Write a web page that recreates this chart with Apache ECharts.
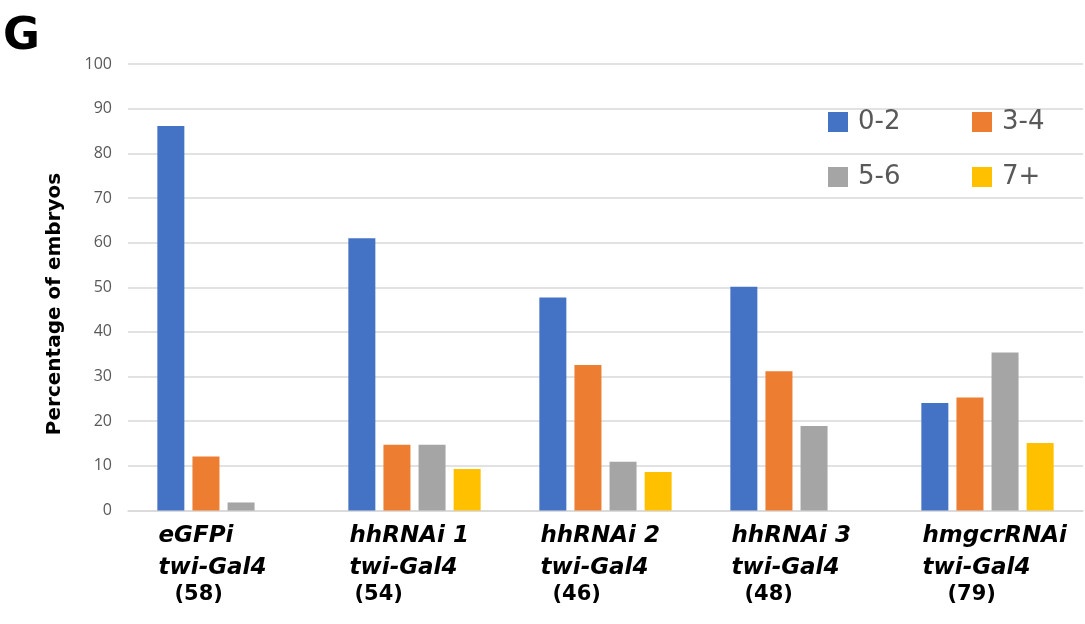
<!DOCTYPE html>
<html>
<head>
<meta charset="utf-8">
<title>Percentage of embryos</title>
<script src="https://cdn.jsdelivr.net/npm/echarts@6/dist/echarts.min.js"></script>
<style>
  html, body { margin: 0; padding: 0; background: #ffffff; }
  #chart { width: 1085px; height: 624px; }
</style>
</head>
<body>
<div id="chart"></div>
<script>
// Genotypes along the x axis
const constructs = ['eGFPi', 'hhRNAi 1', 'hhRNAi 2', 'hhRNAi 3', 'hmgcrRNAi'];
const driver = 'twi-Gal4';
const embryoCounts = [58, 54, 46, 48, 79];

// Percentage of embryos per class
const seriesNames = ['0-2', '3-4', '5-6', '7+'];
const vals02 = [86.1, 61.0, 47.7, 50.1, 24.1];
const vals34 = [12.1, 14.7, 32.6, 31.2, 25.3];
const vals56 = [1.8, 14.7, 10.9, 18.9, 35.4];
const vals7p = [0, 9.3, 8.6, 0, 15.1];

const yTicks = { min: 0, max: 100, interval: 10 };

const colors = ['#4472C4', '#ED7D31', '#A5A5A5', '#FFC000'];
const seriesValues = [vals02, vals34, vals56, vals7p];

// left indent of the "(n)" line under each genotype
const countIndent = [16, 5, 12, 13, 25];

const rich = {
  a: {
    fontFamily: 'DejaVu Sans',
    fontWeight: 'bold',
    fontStyle: 'italic',
    fontSize: 23,
    lineHeight: 32,
    color: '#000000',
    align: 'left'
  }
};
countIndent.forEach((p, i) => {
  rich['n' + i] = {
    fontFamily: 'DejaVu Sans',
    fontWeight: 'bold',
    fontSize: 21,
    lineHeight: 20,
    color: '#000000',
    align: 'left',
    padding: [0, 0, 0, p]
  };
});

const legendPos = [[828, 109], [972, 109], [828, 164], [972, 164]];

const chart = echarts.init(document.getElementById('chart'), null, { renderer: 'canvas' });

chart.setOption({
  animation: false,
  backgroundColor: '#ffffff',
  grid: { left: 128, right: 2, top: 64, bottom: 113.5, containLabel: false },
  legend: seriesNames.map((name, i) => ({
    data: [name],
    left: legendPos[i][0],
    top: legendPos[i][1],
    padding: 0,
    itemWidth: 20,
    itemHeight: 20,
    icon: 'rect',
    selectedMode: false,
    textStyle: {
      fontFamily: 'DejaVu Sans',
      fontSize: 26,
      lineHeight: 20,
      color: '#595959',
      padding: [0, 0, 0, 5]
    }
  })),
  xAxis: {
    type: 'category',
    data: constructs,
    axisLine: { show: true, lineStyle: { color: '#D9D9D9', width: 1.5 } },
    axisTick: { show: false },
    axisLabel: {
      interval: 0,
      margin: 10,
      width: 130,
      overflow: 'none',
      align: 'center',
      verticalAlign: 'top',
      formatter: (val, idx) =>
        '{a|' + val + '}\n{a|' + driver + '}\n{n' + idx + '|(' + embryoCounts[idx] + ')}',
      rich: rich
    }
  },
  yAxis: {
    type: 'value',
    min: yTicks.min,
    max: yTicks.max,
    interval: yTicks.interval,
    axisLine: { show: false },
    axisTick: { show: false },
    splitLine: { lineStyle: { color: '#D9D9D9', width: 1.5 } },
    axisLabel: {
      margin: 16,
      fontFamily: 'Open Sans',
      fontSize: 16,
      color: '#595959'
    }
  },
  graphic: [
    {
      type: 'text',
      x: 3,
      y: 37,
      style: {
        text: 'G',
        fontFamily: 'DejaVu Sans',
        fontWeight: 'bold',
        fontSize: 45,
        fill: '#000000',
        align: 'left',
        verticalAlign: 'middle'
      }
    },
    {
      type: 'text',
      x: 55,
      y: 304,
      rotation: Math.PI / 2,
      style: {
        text: 'Percentage of embryos',
        fontFamily: 'DejaVu Sans',
        fontWeight: 'bold',
        fontSize: 20,
        fill: '#000000',
        align: 'center',
        verticalAlign: 'middle'
      }
    }
  ],
  series: seriesNames.map((name, i) => ({
    name: name,
    type: 'bar',
    data: seriesValues[i],
    barWidth: 27,
    barGap: '30%',
    itemStyle: { color: colors[i] }
  }))
});
</script>
</body>
</html>
